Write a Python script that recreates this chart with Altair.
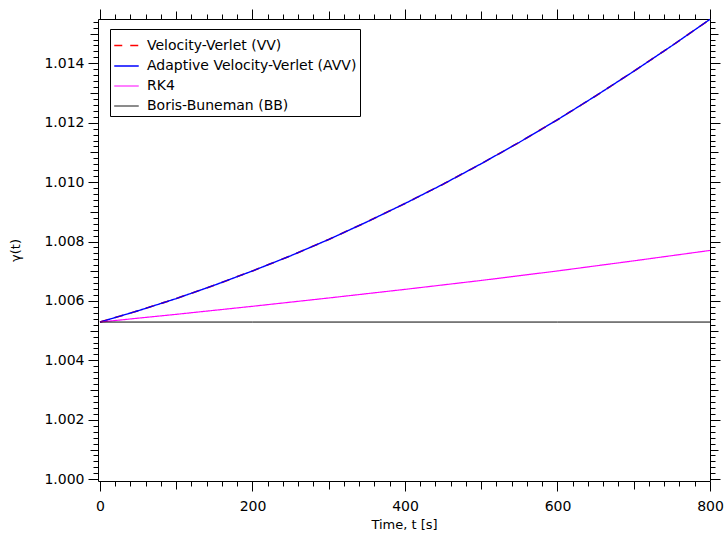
import altair as alt
import pandas as pd

# ---- data ----
t_vv = [0, 50, 100, 150, 200, 250, 300, 350, 400, 450, 500, 550, 600, 650, 700, 750, 800]
g_vv = [1.00529, 1.00567, 1.00608, 1.00653, 1.00701, 1.00752, 1.00807, 1.00866, 1.00928,
        1.00993, 1.01062, 1.01134, 1.01210, 1.01290, 1.01373, 1.01459, 1.01548]
g_avv = list(g_vv)
t_rk4 = [0, 100, 200, 300, 400, 500, 600, 700, 800]
g_rk4 = [1.00529, 1.00555, 1.00582, 1.00610, 1.00639, 1.00669, 1.00701, 1.00735, 1.00770]
t_bb = [0, 200, 400, 600, 800]
g_bb = [1.00529, 1.00529, 1.00529, 1.00529, 1.00529]

series = ["Velocity-Verlet (VV)", "Adaptive Velocity-Verlet (AVV)", "RK4", "Boris-Buneman (BB)"]
colors = ["#ff0000", "#0000ff", "#ff00ff", "#000000"]
dashes = [[8, 8], [1, 0], [1, 0], [1, 0]]
widths = [1.6, 1.0, 1.0, 1.0]

x_major = [0, 200, 400, 600, 800]
x_mid = [100, 300, 500, 700]
x_minor = [v for v in range(0, 801, 20) if v % 100 != 0]
y_major = [1.000, 1.002, 1.004, 1.006, 1.008, 1.010, 1.012, 1.014]
y_mid = [1.001, 1.003, 1.005, 1.007, 1.009, 1.011, 1.013, 1.015]
y_minor = [round(1.0 + 0.0002 * i, 4) for i in range(0, 78) if i % 5 != 0]

rows = []
for name, ts, gs in [(series[0], t_vv, g_vv), (series[1], t_vv, g_avv),
                     (series[2], t_rk4, g_rk4), (series[3], t_bb, g_bb)]:
    for t, g in zip(ts, gs):
        rows.append({"t": t, "g": g, "series": name})
df = pd.DataFrame(rows)

xs = alt.Scale(domain=[-2.6, 800], nice=False, zero=False)
ys = alt.Scale(domain=[0.99994, 1.01549], nice=False, zero=False)

def xaxis(orient, values, size, labels=False, title=None):
    kw = dict(orient=orient, values=values, tickSize=size, labels=labels, domain=False,
              grid=False, tickColor="black", tickWidth=1, title=title)
    if labels:
        kw.update(labelFont="DejaVu Sans", labelFontSize=14, labelColor="black",
                  labelPadding=8, labelFlush=False, titleFont="DejaVu Sans", titleFontSize=13,
                  titleFontWeight="normal", titleColor="black", titlePadding=5)
    return alt.Axis(**kw)

def yaxis(orient, values, size, labels=False, title=None):
    kw = dict(orient=orient, values=values, tickSize=size, labels=labels, domain=False,
              grid=False, tickColor="black", tickWidth=1, title=title)
    if labels:
        kw.update(labelFont="DejaVu Sans", labelFontSize=14, labelColor="black",
                  labelPadding=4, labelFlush=False, format=".3f", titleFont="DejaVu Sans",
                  titleFontSize=13, titleFontWeight="normal", titleColor="black",
                  titlePadding=21)
    return alt.Axis(**kw)

base = alt.Chart(df)

legend = alt.Legend(title=None, orient="none", legendX=12, legendY=10,
                    symbolType="stroke", symbolSize=600, symbolStrokeWidth=1.2,
                    labelFont="DejaVu Sans", labelFontSize=14, labelColor="black",
                    labelOffset=7, labelLimit=400, rowPadding=-6, padding=3,
                    strokeColor="black", fillColor="white", cornerRadius=0)

lines = base.mark_line().encode(
    x=alt.X("t:Q", scale=xs, axis=xaxis("bottom", x_major, 10, True, "Time, t [s]")),
    y=alt.Y("g:Q", scale=ys, axis=yaxis("left", y_major, 10, True, "γ(t)")),
    color=alt.Color("series:N", scale=alt.Scale(domain=series, range=colors),
                    sort=series, legend=legend),
    strokeDash=alt.StrokeDash("series:N", scale=alt.Scale(domain=series, range=dashes),
                              sort=series, legend=legend),
    strokeWidth=alt.StrokeWidth("series:N", scale=alt.Scale(domain=series, range=widths),
                                legend=None),
    order=alt.Order("t:Q"),
)

def ghost(xa, ya):
    return base.mark_point(opacity=0).encode(
        x=alt.X("t:Q", scale=xs, axis=xa),
        y=alt.Y("g:Q", scale=ys, axis=ya),
    )

layers = [
    lines,
    ghost(xaxis("bottom", x_mid, 8), yaxis("left", y_mid, 8)),
    ghost(xaxis("bottom", x_minor, 5), yaxis("left", y_minor, 5)),
    ghost(xaxis("top", x_major, 10), yaxis("right", y_major, 10)),
    ghost(xaxis("top", x_mid, 8), yaxis("right", y_mid, 8)),
    ghost(xaxis("top", x_minor, 5), yaxis("right", y_minor, 5)),
]

chart = alt.layer(*layers).resolve_axis(x="independent", y="independent").properties(
    width=612, height=462,
    autosize=alt.AutoSizeParams(type="none"),
    padding={"left": 98, "top": 19, "right": 15, "bottom": 53},
    background="white",
).configure_view(stroke="black", strokeWidth=1)

chart.save("out.html", embed_options={"renderer": "svg", "actions": False})
